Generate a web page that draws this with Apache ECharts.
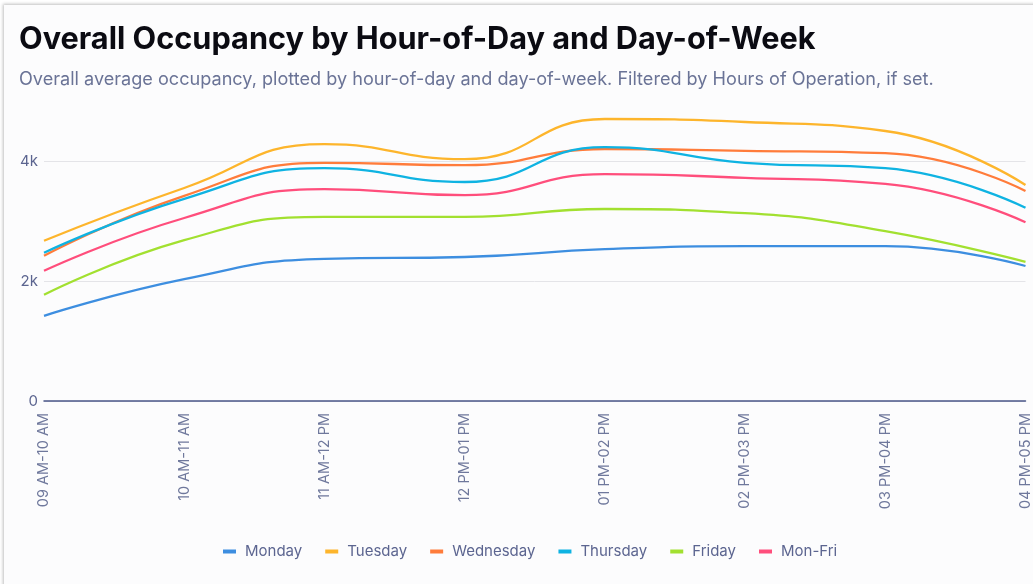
<!DOCTYPE html>
<html>
<head>
<meta charset="utf-8">
<script src="https://cdn.jsdelivr.net/npm/echarts@6/dist/echarts.min.js"></script>
<style>
html,body{margin:0;padding:0;background:#ffffff;}
#wrap{position:absolute;left:0;top:0;width:1033px;height:584px;overflow:hidden;background:#fff;}
#card{position:absolute;left:4px;top:5px;width:1040px;height:600px;background:#fcfcfd;box-shadow:-1px -1px 3px rgba(0,0,0,0.25);}
#chart{position:absolute;left:0;top:0;width:1033px;height:584px;}
</style>
</head>
<body>
<div id="wrap"><div id="card"></div><div id="chart"></div></div>
<script>
const categories = ['09 AM-10 AM','10 AM-11 AM','11 AM-12 PM','12 PM-01 PM','01 PM-02 PM','02 PM-03 PM','03 PM-04 PM','04 PM-05 PM'];
const monday    = [1420, 2030, 2370, 2400, 2530, 2580, 2580, 2250];
const tuesday   = [2670, 3550, 4280, 4030, 4700, 4650, 4500, 3600];
const wednesday = [2420, 3420, 3970, 3930, 4200, 4170, 4130, 3500];
const thursday  = [2470, 3370, 3880, 3650, 4230, 3970, 3880, 3220];
const friday    = [1770, 2680, 3070, 3070, 3200, 3130, 2830, 2320];
const monFri    = [2170, 3050, 3530, 3430, 3780, 3720, 3620, 2980];
const seriesNames = ['Monday','Tuesday','Wednesday','Thursday','Friday','Mon-Fri'];
const seriesData = [monday, tuesday, wednesday, thursday, friday, monFri];
const colors = ['#3d8ee0','#fdb52c','#ff7c3b','#0fb3e2','#a2e030','#ff4e7c'];

const chart = echarts.init(document.getElementById('chart'), null, {renderer:'canvas'});
const font = 'Inter, "Noto Sans", sans-serif';
chart.setOption({
  animation:false,
  color: colors,
  title: {
    text: 'Overall Occupancy by Hour-of-Day and Day-of-Week',
    subtext: 'Overall average occupancy, plotted by hour-of-day and day-of-week. Filtered by Hours of Operation, if set.',
    left: 14, top: 19,
    itemGap: 16,
    textStyle: {fontFamily: font, fontSize: 30.7, fontWeight: 'bold', color: '#0b0b12'},
    subtextStyle: {fontFamily: font, fontSize: 18.1, color: '#6a7396'}
  },
  legend: {
    bottom: 20, left: 218,
    icon: 'rect', itemWidth: 13, itemHeight: 4, itemGap: 23,
    textStyle: {fontFamily: font, fontSize: 15, color: '#5c6590', padding: [0,0,0,4]},
    data: seriesNames
  },
  grid: {left: 44, right: 6, top: 113, bottom: 183, containLabel: false},
  xAxis: {
    type: 'category', boundaryGap: false, data: categories,
    axisLine: {lineStyle: {color: '#4a5688', width: 1.5}},
    axisTick: {show: false},
    axisLabel: {rotate: 90, fontFamily: font, fontSize: 14.5, color: '#6f789c', margin: 12, interval: 0}
  },
  yAxis: {
    type: 'value', min: 0, max: 4800, interval: 2000,
    axisLine: {show: false}, axisTick: {show: false},
    axisLabel: {fontFamily: font, fontSize: 15, color: '#5c6590', margin: 6, showMaxLabel: false,
      formatter: v => v === 0 ? '0' : (v/1000) + 'k'},
    splitLine: {lineStyle: {color: ['#e4e4e8','#e4e4e8','#e4e4e8','rgba(0,0,0,0)'], width: 1}}
  },
  series: seriesNames.map((n, i) => ({
    name: n, type: 'line', smooth: true, showSymbol: false, symbol: 'none',
    data: seriesData[i], lineStyle: {width: 2.3, color: colors[i]}, itemStyle: {color: colors[i]}
  }))
});
</script>
</body>
</html>
